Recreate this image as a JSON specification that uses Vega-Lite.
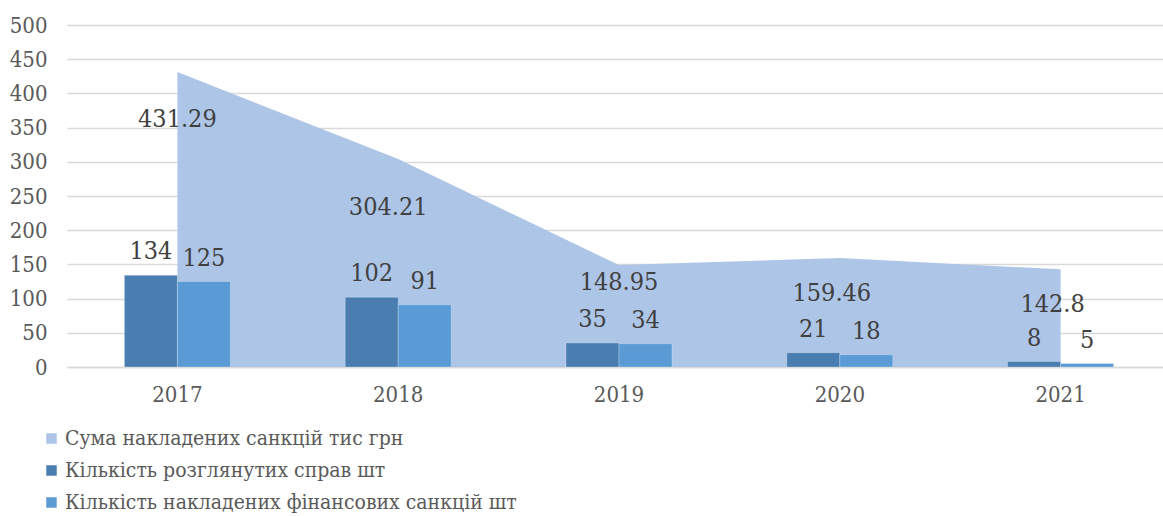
{
  "$schema": "https://vega.github.io/schema/vega-lite/v6.json",
  "width": 1096,
  "height": 342,
  "autosize": {"type": "none"},
  "padding": {"left": 67, "top": 25, "right": 0, "bottom": 149},
  "background": "white",
  "config": {
    "view": {"stroke": null},
    "font": "DejaVu Serif Condensed",
    "text": {"font": "DejaVu Serif Condensed"},
    "axis": {"labelFont": "DejaVu Serif Condensed", "labelColor": "#595959", "labelFontSize": 22, "title": null},
    "legend": {"labelFont": "DejaVu Serif Condensed"}
  },
  "data": {
    "values": [
      {"year": "2017", "series": "Сума накладених санкцій тис грн", "value": 431.29},
      {"year": "2018", "series": "Сума накладених санкцій тис грн", "value": 304.21},
      {"year": "2019", "series": "Сума накладених санкцій тис грн", "value": 148.95},
      {"year": "2020", "series": "Сума накладених санкцій тис грн", "value": 159.46},
      {"year": "2021", "series": "Сума накладених санкцій тис грн", "value": 142.8},
      {"year": "2017", "series": "Кількість розглянутих справ шт", "value": 134},
      {"year": "2018", "series": "Кількість розглянутих справ шт", "value": 102},
      {"year": "2019", "series": "Кількість розглянутих справ шт", "value": 35},
      {"year": "2020", "series": "Кількість розглянутих справ шт", "value": 21},
      {"year": "2021", "series": "Кількість розглянутих справ шт", "value": 8},
      {"year": "2017", "series": "Кількість накладених фінансових санкцій шт", "value": 125},
      {"year": "2018", "series": "Кількість накладених фінансових санкцій шт", "value": 91},
      {"year": "2019", "series": "Кількість накладених фінансових санкцій шт", "value": 34},
      {"year": "2020", "series": "Кількість накладених фінансових санкцій шт", "value": 18},
      {"year": "2021", "series": "Кількість накладених фінансових санкцій шт", "value": 5}
    ]
  },
  "encoding": {
    "x": {
      "field": "year", "type": "nominal",
      "scale": {"range": [0, 1104], "paddingInner": 0.52, "paddingOuter": 0.26},
      "axis": {"labelAngle": 0, "ticks": false, "domainColor": "#d9d9d9", "domainWidth": 1.5, "labelPadding": 17, "grid": false, "labelFontSize": 22, "labelColor": "#595959"}
    },
    "y": {
      "field": "value", "type": "quantitative",
      "scale": {"domain": [0, 500], "nice": false},
      "axis": {"values": [0, 50, 100, 150, 200, 250, 300, 350, 400, 450, 500], "domain": false, "ticks": false, "gridColor": "#d9d9d9", "gridWidth": 1.5, "labelPadding": 20, "labelFontSize": 22, "labelColor": "#595959"}
    }
  },
  "layer": [
    {
      "transform": [{"filter": "datum.series === 'Сума накладених санкцій тис грн'"}],
      "mark": {"type": "area", "opacity": 1},
      "encoding": {
        "color": {
          "field": "series", "type": "nominal",
          "scale": {
            "domain": ["Сума накладених санкцій тис грн", "Кількість розглянутих справ шт", "Кількість накладених фінансових санкцій шт"],
            "range": ["#adc5e7", "#4a7eb0", "#5b9bd5"]
          },
          "legend": {
            "title": null, "orient": "none", "legendX": -26, "legendY": 403,
            "direction": "vertical", "symbolType": "square", "symbolSize": 110,
            "symbolStrokeWidth": 0, "labelFontSize": 21, "labelColor": "#595959",
            "labelOffset": 3, "rowPadding": 10, "labelLimit": 800
          }
        }
      }
    },
    {
      "transform": [{"filter": "datum.series !== 'Сума накладених санкцій тис грн'"}],
      "mark": {"type": "bar", "stroke": "#ffffff", "strokeOpacity": 0.25, "strokeWidth": 1},
      "encoding": {
        "xOffset": {"field": "series", "type": "nominal", "sort": ["Кількість розглянутих справ шт", "Кількість накладених фінансових санкцій шт"]},
        "color": {"field": "series", "type": "nominal"}
      }
    },
    {
      "transform": [{"filter": "datum.series !== 'Сума накладених санкцій тис грн'"}],
      "mark": {"type": "text", "fontSize": 25, "color": "#404040", "baseline": "alphabetic", "dy": -16},
      "encoding": {
        "xOffset": {"field": "series", "type": "nominal", "sort": ["Кількість розглянутих справ шт", "Кількість накладених фінансових санкцій шт"]},
        "text": {"field": "value", "type": "quantitative"}
      }
    },
    {
      "transform": [{"filter": "datum.series === 'Сума накладених санкцій тис грн' && datum.year === '2017'"}],
      "mark": {"type": "text", "fontSize": 25, "color": "#404040", "baseline": "middle", "dy": 47},
      "encoding": {"text": {"field": "value", "type": "quantitative"}}
    },
    {
      "transform": [{"filter": "datum.series === 'Сума накладених санкцій тис грн' && datum.year === '2018'"}],
      "mark": {"type": "text", "fontSize": 25, "color": "#404040", "baseline": "middle", "dy": 48, "dx": -10},
      "encoding": {"text": {"field": "value", "type": "quantitative"}}
    },
    {
      "transform": [{"filter": "datum.series === 'Сума накладених санкцій тис грн' && datum.year === '2019'"}],
      "mark": {"type": "text", "fontSize": 25, "color": "#404040", "baseline": "middle", "dy": 17},
      "encoding": {"text": {"field": "value", "type": "quantitative"}}
    },
    {
      "transform": [{"filter": "datum.series === 'Сума накладених санкцій тис грн' && (datum.year === '2020' || datum.year === '2021')"}],
      "mark": {"type": "text", "fontSize": 25, "color": "#404040", "baseline": "middle", "dy": 35, "dx": -8},
      "encoding": {"text": {"field": "value", "type": "quantitative"}}
    }
  ]
}
